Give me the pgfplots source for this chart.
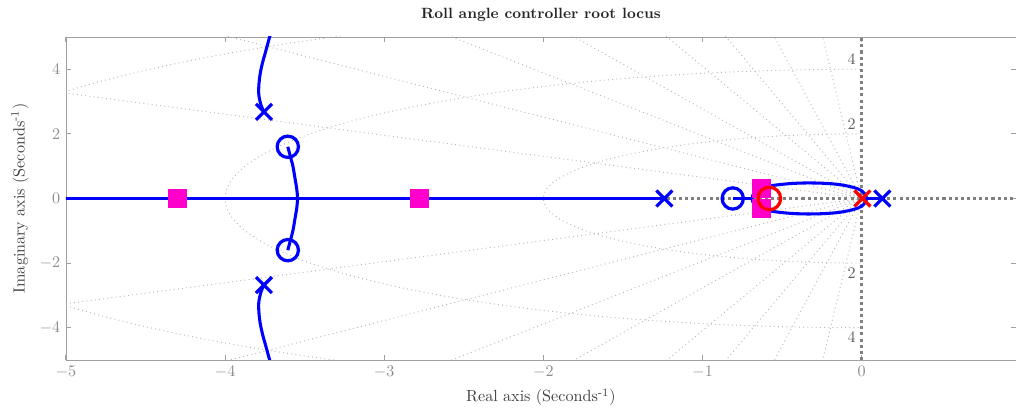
\documentclass[border=0pt]{standalone}
\usepackage{pgfplots}
\pgfplotsset{compat=1.18}
\definecolor{locblue}{RGB}{0,0,255}
\definecolor{locmag}{RGB}{255,0,204}
\definecolor{axgray}{RGB}{160,160,160}
\definecolor{tickgray}{RGB}{140,140,140}
\definecolor{gridgray}{RGB}{185,185,185}
\definecolor{labgray}{RGB}{95,95,95}
\definecolor{zgray}{RGB}{128,128,128}
\begin{document}
\begin{tikzpicture}
\begin{axis}[
 scale only axis, width=589pt, height=200.3pt,
 xmin=-5, xmax=0.97, ymin=-5, ymax=5,
 xtick={-5,-4,-3,-2,-1,0}, ytick={-4,-2,0,2,4},
 tick align=inside, tick pos=both, major tick length=3pt,
 axis line style={axgray}, tick style={axgray, line width=0.6pt},
 tick label style={tickgray},
 title={\fontsize{9.2}{11}\selectfont\bfseries Roll angle controller root locus},
 xlabel={Real axis (Seconds\textsuperscript{-1})},
 ylabel={Imaginary axis (Seconds\textsuperscript{-1})},
 label style={color=black!75},
 title style={color=black!85},
]
\coordinate (sw) at (rel axis cs:0,0);
\coordinate (ne) at (rel axis cs:1,1);
% s-plane grid
\begin{scope}
\clip (axis cs:-5,-5) rectangle (axis cs:0,5);
\draw[gridgray, dotted, line width=0.6pt] (axis cs:0,0) ellipse [x radius=2, y radius=2];
\draw[gridgray, dotted, line width=0.6pt] (axis cs:0,0) ellipse [x radius=4, y radius=4];
\draw[gridgray, dotted, line width=0.6pt] (axis cs:0,0) ellipse [x radius=6, y radius=6];
\end{scope}
\addplot[gridgray, dotted, line width=0.6pt] coordinates {(-10,6.52) (0,0) (-10,-6.52)};
\addplot[gridgray, dotted, line width=0.6pt] coordinates {(-7.94,10) (0,0) (-7.94,-10)};
\addplot[gridgray, dotted, line width=0.6pt] coordinates {(-5.15,10) (0,0) (-5.15,-10)};
\addplot[gridgray, dotted, line width=0.6pt] coordinates {(-3.61,10) (0,0) (-3.61,-10)};
\addplot[gridgray, dotted, line width=0.6pt] coordinates {(-2.445,10) (0,0) (-2.445,-10)};
\addplot[gridgray, dotted, line width=0.6pt] coordinates {(-1.704,10) (0,0) (-1.704,-10)};
\addplot[gridgray, dotted, line width=0.6pt] coordinates {(-1.096,10) (0,0) (-1.096,-10)};
\addplot[gridgray, dotted, line width=0.6pt] coordinates {(-0.49,10) (0,0) (-0.49,-10)};
\node[labgray] at (axis cs:-0.063,4.3) {4};
\node[labgray] at (axis cs:-0.063,2.3) {2};
\node[labgray] at (axis cs:-0.063,-2.3) {2};
\node[labgray] at (axis cs:-0.063,-4.3) {4};
% real and imaginary axes
\addplot[zgray, line width=1.9pt, dash pattern=on 1.9pt off 1.9pt] coordinates {(-5,0) (1,0)};
\addplot[zgray, line width=1.9pt, dash pattern=on 1.9pt off 1.9pt] coordinates {(0,-5) (0,5)};
% root locus branches
\addplot[locblue, line width=1.9pt] coordinates {(-5.2,0) (-1.24,0)};
\addplot[locblue, line width=1.9pt, smooth] coordinates {(-3.756,2.68) (-3.775,2.9) (-3.788,3.2) (-3.788,3.5) (-3.78,3.85) (-3.765,4.2) (-3.748,4.5) (-3.72,5.0) (-3.70,5.3)};
\addplot[locblue, line width=1.9pt, smooth] coordinates {(-3.756,-2.68) (-3.775,-2.9) (-3.788,-3.2) (-3.788,-3.5) (-3.78,-3.85) (-3.765,-4.2) (-3.748,-4.5) (-3.72,-5.0) (-3.70,-5.3)};
\addplot[locblue, line width=1.9pt, smooth] coordinates {(-3.606,1.6) (-3.59,1.3) (-3.574,1.0) (-3.56,0.6) (-3.55,0.3) (-3.545,0) (-3.55,-0.3) (-3.56,-0.6) (-3.574,-1.0) (-3.59,-1.3) (-3.606,-1.6)};
\addplot[locblue, line width=1.9pt, smooth] coordinates {(0.03,0) (0.025,0.1) (0.0,0.24) (-0.05,0.34) (-0.14,0.43) (-0.24,0.47) (-0.345,0.48) (-0.45,0.46) (-0.56,0.4) (-0.62,0.31) (-0.67,0.2) (-0.69,0) (-0.67,-0.2) (-0.62,-0.31) (-0.56,-0.4) (-0.45,-0.46) (-0.345,-0.48) (-0.24,-0.47) (-0.14,-0.43) (-0.05,-0.34) (0.0,-0.24) (0.025,-0.1) (0.03,0)};
\addplot[locblue, line width=1.9pt] coordinates {(-0.81,0) (-0.69,0)};
\addplot[locblue, line width=1.9pt] coordinates {(0,0) (0.13,0)};
% open-loop poles and zeros
\addplot[locblue, only marks, mark=x, mark size=7pt, line width=2pt] coordinates {(-3.756,2.68) (-3.756,-2.68) (-1.24,0) (0.13,0)};
\addplot[locblue, only marks, mark=o, mark size=6.6pt, line width=2pt] coordinates {(-3.606,1.6) (-3.606,-1.6) (-0.81,0)};
% closed-loop poles
\addplot[locmag, only marks, mark=square*, mark size=5.6pt, line width=0pt] coordinates {(-4.30,0) (-2.776,0) (-0.628,0.31) (-0.628,-0.31)};
% controller pole and zero
\addplot[red, only marks, mark=o, mark size=7pt, line width=2pt] coordinates {(-0.58,0)};
\addplot[red, only marks, mark=x, mark size=7pt, line width=2pt] coordinates {(0.005,0)};
\end{axis}
\pgfresetboundingbox
\path ([shift={(-40.9pt,-32.2pt)}]sw) rectangle ([yshift=22.9pt]ne);
\end{tikzpicture}
\end{document}
